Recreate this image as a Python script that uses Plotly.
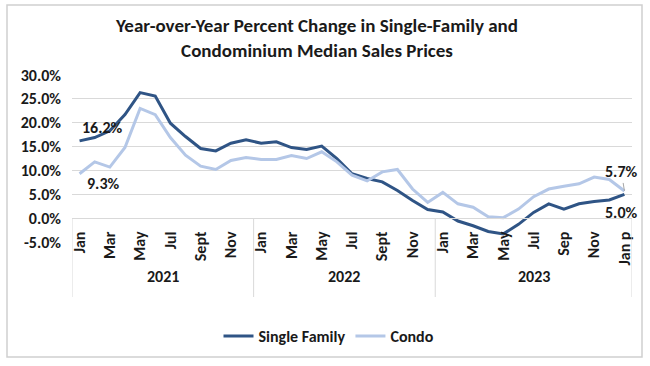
import plotly.graph_objects as go

# ---- data ----
single_family = [16.2, 16.9, 18.3, 21.7, 26.3, 25.6, 19.9, 17.1, 14.6, 14.1, 15.7, 16.4,
                 15.7, 16.0, 14.8, 14.4, 15.1, 12.5, 9.3, 8.3, 7.6, 5.8, 3.7, 1.8,
                 1.3, -0.6, -1.6, -2.8, -3.3, -1.3, 1.2, 3.0, 1.9, 3.0, 3.5, 3.8, 5.0]
condo = [9.3, 11.8, 10.7, 14.8, 23.0, 21.7, 16.9, 13.2, 10.9, 10.2, 12.1, 12.7,
         12.3, 12.3, 13.1, 12.5, 13.9, 11.8, 9.0, 7.8, 9.7, 10.2, 6.1, 3.3,
         5.4, 3.0, 2.3, 0.3, 0.1, 1.9, 4.5, 6.1, 6.7, 7.2, 8.6, 8.1, 5.7]
tick_labels = ["Jan", "Mar", "May", "Jul", "Sept", "Nov",
               "Jan", "Mar", "May", "Jul", "Sept", "Nov",
               "Jan", "Mar", "May", "Jul", "Sep", "Nov", "Jan p"]
year_labels = ["2021", "2022", "2023"]
year_sizes = [12, 12, 13]
y_ticks = [-5, 0, 5, 10, 15, 20, 25, 30]
series_names = ["Single Family", "Condo"]

FONT = "Carlito, Lato, sans-serif"
DARK = "#2f5485"
LIGHT = "#b4c7e7"
GRID = "#d9d9d9"
TXT = "#1a1a1a"
FS = 16

n = len(single_family)
xs = list(range(n))
ymin, ymax = -5, 30

fig = go.Figure()
fig.add_trace(go.Scatter(x=xs, y=single_family, mode="lines", name=f"<b>{series_names[0]}</b>",
                         line=dict(color=DARK, width=3)))
fig.add_trace(go.Scatter(x=xs, y=condo, mode="lines", name=f"<b>{series_names[1]}</b>",
                         line=dict(color=LIGHT, width=3)))

# plot geometry in pixels
W, H = 650, 366
L, R, T, B = 72, 18, 75, 124
pw = W - L - R
ph = H - T - B
def py(px):  # pixel y -> paper y
    return (H - B - px) / ph
def pxp(px):  # pixel x -> paper x
    return (px - L) / pw

zero_pos = (0 - ymin) / (ymax - ymin)

shapes = []
start = 0
bounds = [-0.5]
for s in year_sizes:
    start += s
    bounds.append(start - 0.5)
for b in bounds:
    shapes.append(dict(type="line", xref="x", yref="paper", x0=b, x1=b,
                       y0=zero_pos, y1=py(297), line=dict(color=GRID, width=1)))
# outer border
shapes.append(dict(type="rect", xref="paper", yref="paper",
                   x0=pxp(7), x1=pxp(642), y0=py(357), y1=py(5),
                   line=dict(color="#d0d0d0", width=1.5),
                   fillcolor="rgba(0,0,0,0)", layer="above"))

annotations = []
for i, yl in enumerate(year_labels):
    c = (bounds[i] + bounds[i + 1]) / 2
    annotations.append(dict(x=c, y=py(288), xref="x", yref="paper", text=f"<b>{yl}</b>",
                            showarrow=False, font=dict(family=FONT, size=FS, color=TXT)))

lab_font = dict(family=FONT, size=FS, color=TXT)
annotations += [
    dict(x=0, y=single_family[0], text=f"<b>{single_family[0]:.1f}%</b>", showarrow=False,
         xshift=23, yshift=13, font=lab_font),
    dict(x=0, y=condo[0], text=f"<b>{condo[0]:.1f}%</b>", showarrow=False,
         xshift=23, yshift=-10, font=lab_font),
    dict(x=n - 1, y=condo[-1], text=f"<b>{condo[-1]:.1f}%</b>", showarrow=True,
         arrowhead=0, arrowwidth=1, arrowcolor="#a6a6a6", ax=-3, ay=-19, font=lab_font),
    dict(x=n - 1, y=single_family[-1], text=f"<b>{single_family[-1]:.1f}%</b>", showarrow=False,
         xshift=-3, yshift=-18, font=lab_font),
]

fig.update_layout(
    width=W, height=H,
    margin=dict(l=L, r=R, t=T, b=B),
    paper_bgcolor="white", plot_bgcolor="white",
    font=dict(family=FONT, size=FS, color=TXT),
    title=dict(text="<b>Year-over-Year Percent Change in Single-Family and<br>Condominium Median Sales Prices</b>",
               x=317 / W, xanchor="center", xref="container",
               y=1 - 32 / H, yanchor="top", yref="container",
               font=dict(family=FONT, size=19, color=TXT)),
    showlegend=True,
    legend=dict(orientation="h", x=pxp(329), xanchor="center",
                y=py(336), yanchor="middle", font=dict(family=FONT, size=FS, color=TXT),
                bgcolor="rgba(0,0,0,0)"),
    shapes=shapes,
    annotations=annotations,
)
fig.update_xaxes(range=[-0.5, n - 0.5], tickvals=xs[::2], ticktext=[f"<b>{t}</b>" for t in tick_labels],
                 tickangle=-90, anchor="free", position=zero_pos, showline=True,
                 linecolor=GRID, linewidth=1, showgrid=False, zeroline=False, ticks="",
                 ticklabelstandoff=6, automargin=False,
                 tickfont=dict(family=FONT, size=FS, color=TXT))
fig.update_yaxes(range=[ymin, ymax], tickvals=y_ticks,
                 ticktext=[f"<b>{v:.1f}%</b>" for v in y_ticks],
                 showgrid=True, gridcolor=GRID, gridwidth=1, zeroline=False, showline=False,
                 ticks="", ticklabelstandoff=10, automargin=False,
                 tickfont=dict(family=FONT, size=FS, color=TXT))

fig.write_html("out.html", config={"displayModeBar": False},
               post_script="document.body.style.margin='0';document.body.style.padding='0';")
